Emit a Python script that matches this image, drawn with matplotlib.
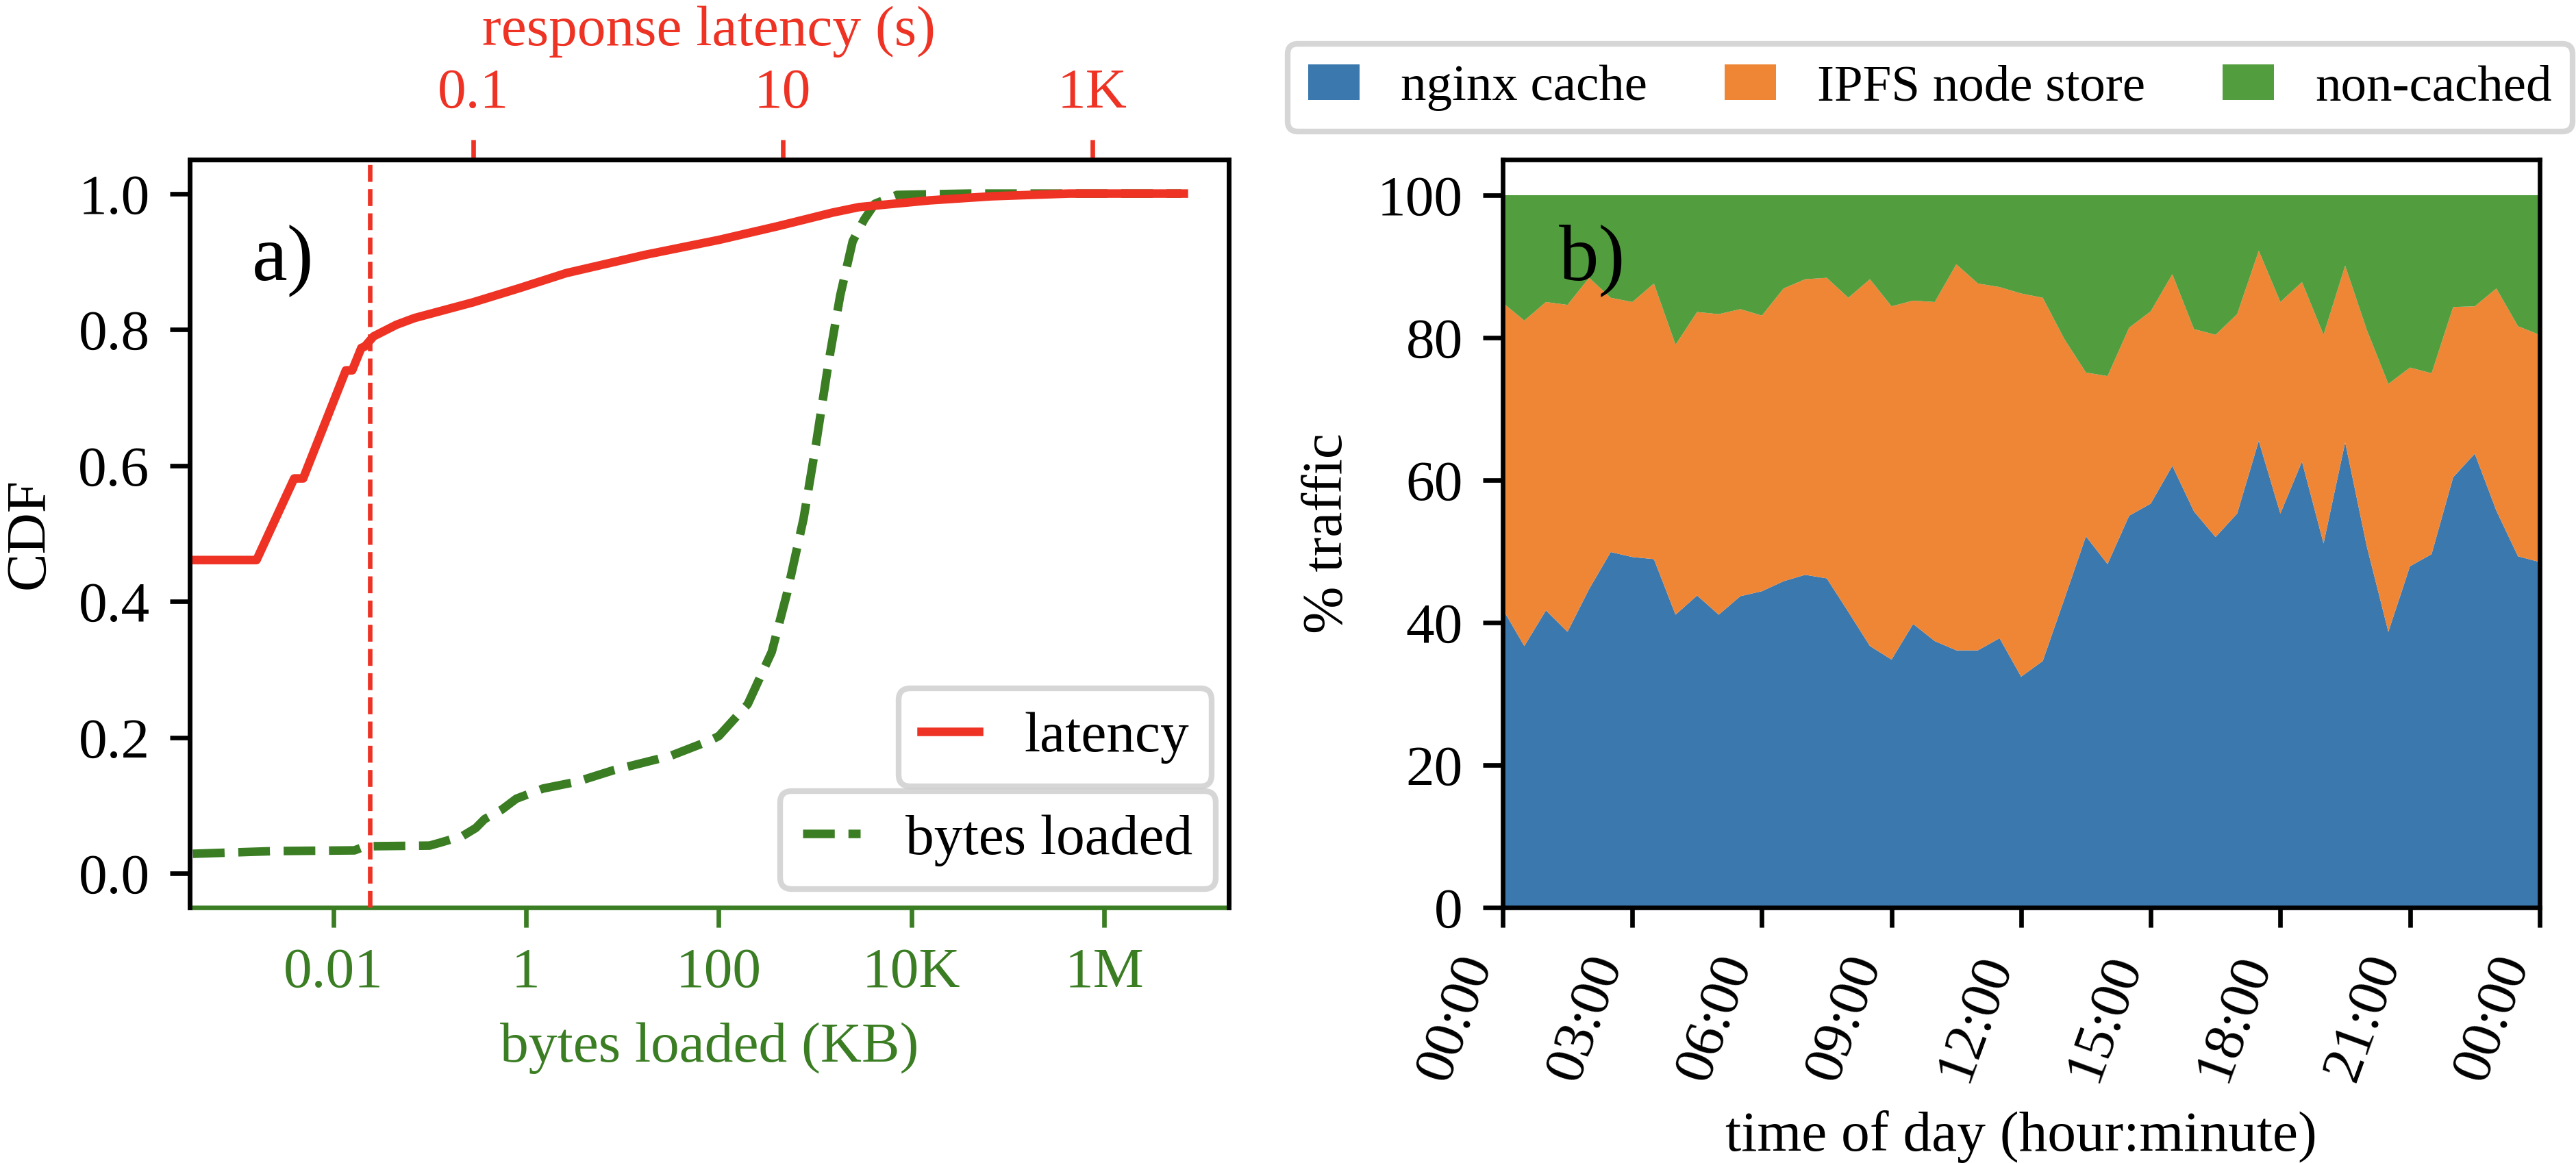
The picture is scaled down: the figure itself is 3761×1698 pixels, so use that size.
# CDF of response latency / bytes loaded (a) and cache share of traffic over the day (b)

import numpy as np
import pandas as pd
import matplotlib
matplotlib.use('Agg')
import matplotlib.pyplot as plt
import matplotlib.dates as mdates
from matplotlib.ticker import FixedLocator, FixedFormatter, NullLocator

plt.rcParams['font.family'] = ['Liberation Serif', 'DejaVu Serif']
plt.rcParams['font.size'] = 10
plt.rcParams['legend.handlelength'] = 1.0

red = '#ee3224'
green = '#3a7d23'
stack_colors = ['#3a78ae', '#ee8636', '#529e3e']

# a) latency CDF (seconds)
lat_s = [0.001, 0.0040, 0.0070, 0.0080, 0.0151, 0.0166, 0.019, 0.020, 0.0228,
         0.032, 0.042, 0.1, 0.2, 0.4, 0.84, 1.3, 3.9, 9.3, 21, 31, 89, 224,
         710, 3900]
lat_cdf = [0.461, 0.461, 0.581, 0.581, 0.740, 0.740, 0.773, 0.775, 0.790,
           0.807, 0.817, 0.840, 0.861, 0.883, 0.900, 0.910, 0.932, 0.952,
           0.972, 0.980, 0.990, 0.996, 1.0, 1.0]
lat_cut = 0.0215

# a) bytes loaded CDF (KB)
bytes_kb = [3.5e-4, 2.5e-3, 0.0166, 0.0214, 0.1, 0.126, 0.219, 0.302, 0.372,
            0.562, 0.794, 1.51, 3.39, 8.13, 31.6, 79.4, 100, 200, 355, 513,
            759, 1023, 1380, 1820, 2455, 3236, 4169, 7079, 39810, 6.3e6]
bytes_cdf = [0.029, 0.033, 0.034, 0.040, 0.041, 0.045, 0.055, 0.067, 0.080,
             0.094, 0.110, 0.125, 0.135, 0.152, 0.173, 0.195, 0.202, 0.249,
             0.326, 0.413, 0.522, 0.632, 0.752, 0.850, 0.930, 0.962, 0.985,
             0.998, 1.0, 1.0]

bytes_ticks = [1e-2, 1, 1e2, 1e4, 1e6]
bytes_labels = ['0.01', '1', '100', '10K', '1M']
lat_ticks = [0.1, 10, 1000]
lat_labels = ['0.1', '10', '1K']

# b) % traffic every 30 minutes
times = pd.date_range('2021-01-01 00:00', periods=49, freq='30min')
nginx = [41.9, 36.7, 41.7, 38.7, 44.7, 49.9, 49.2, 48.9, 41.1, 43.8, 41.1, 43.7,
         44.4, 45.8, 46.7, 46.2, 41.5, 36.7, 34.8, 39.8, 37.4, 36.1, 36.1, 37.8,
         32.4, 34.6, 43.3, 52.1, 48.2, 55.0, 56.7, 62.0, 55.6, 52.0, 55.3, 65.5,
         55.3, 62.6, 51.1, 65.3, 50.7, 38.7, 47.9, 49.6, 60.4, 63.7, 55.7, 49.3,
         48.5]
ipfs = [43.0, 45.7, 43.3, 45.9, 43.7, 35.7, 35.8, 38.7, 37.9, 39.8, 42.2, 40.3,
        38.7, 41.1, 41.5, 42.2, 44.1, 51.5, 49.6, 45.4, 47.6, 54.2, 51.5, 49.3,
        53.8, 51.0, 36.5, 23.0, 26.4, 26.4, 27.0, 26.9, 25.6, 28.4, 28.0, 26.7,
        29.7, 25.2, 29.3, 24.8, 30.4, 34.8, 27.9, 25.4, 23.9, 20.7, 31.2, 32.3,
        31.9]
noncached = list(100 - np.array(nginx) - np.array(ipfs))
stack_labels = ['nginx cache', 'IPFS node store', 'non-cached']

fig = plt.figure(figsize=(6.27, 2.83))

# ---- a)
ax = fig.add_axes([0.0736, 0.2197, 0.4032, 0.6431])
ax.plot(bytes_kb, bytes_cdf, c=green, ls='--', lw=1.5, label='bytes loaded')
ax.set_xscale('log')
ax.set_xlim(10**-3.49, 10**7.29)
ax.set_ylim(-0.05, 1.05)
ax.xaxis.set_major_locator(FixedLocator(bytes_ticks))
ax.xaxis.set_major_formatter(FixedFormatter(bytes_labels))
ax.xaxis.set_minor_locator(NullLocator())
ax.tick_params(axis='x', colors=green)
ax.spines['bottom'].set_color(green)
ax.set_xlabel('bytes loaded (KB)', color=green)
ax.set_ylabel('CDF')
ax.text(0.06, 0.865, 'a)', transform=ax.transAxes, fontsize=14, va='center')

ax2 = ax.twiny()
ax2.plot(lat_s, lat_cdf, c=red, lw=1.5, label='latency')
ax2.axvline(lat_cut, c=red, ls='--', lw=0.8)
ax2.set_xscale('log')
ax2.set_xlim(10**-2.83, 10**3.88)
ax2.xaxis.set_major_locator(FixedLocator(lat_ticks))
ax2.xaxis.set_major_formatter(FixedFormatter(lat_labels))
ax2.xaxis.set_minor_locator(NullLocator())
ax2.tick_params(axis='x', colors=red)
ax2.spines['bottom'].set_visible(False)
ax2.set_xlabel('response latency (s)', color=red)

ax.legend(loc='lower right', bbox_to_anchor=(0.9875, 0.0247), borderaxespad=0)
ax2.legend(loc='lower right', bbox_to_anchor=(0.984, 0.162), borderaxespad=0)

# ---- b)
bx = fig.add_axes([0.5832, 0.2197, 0.4024, 0.6431])
polys = bx.stackplot(times, nginx, ipfs, noncached, colors=stack_colors,
                     labels=stack_labels, lw=0)
bx.set_xlim(times[0], times[-1])
bx.set_ylim(0, 105)
bx.xaxis.set_major_locator(mdates.HourLocator(interval=3))
bx.xaxis.set_major_formatter(mdates.DateFormatter('%H:%M'))
plt.setp(bx.get_xticklabels(), rotation=70, ha='right')
bx.set_xlabel('time of day (hour:minute)')
bx.set_ylabel('% traffic')
bx.text(0.054, 0.865, 'b)', transform=bx.transAxes, fontsize=14, va='center')

fig.legend(handles=polys, labels=stack_labels, loc='lower left',
           bbox_to_anchor=(0.4997, 0.8869, 0.4987, 0.076),
           mode='expand', ncol=3, borderaxespad=0, fontsize=9)

fig.savefig('out.png', dpi=600)
